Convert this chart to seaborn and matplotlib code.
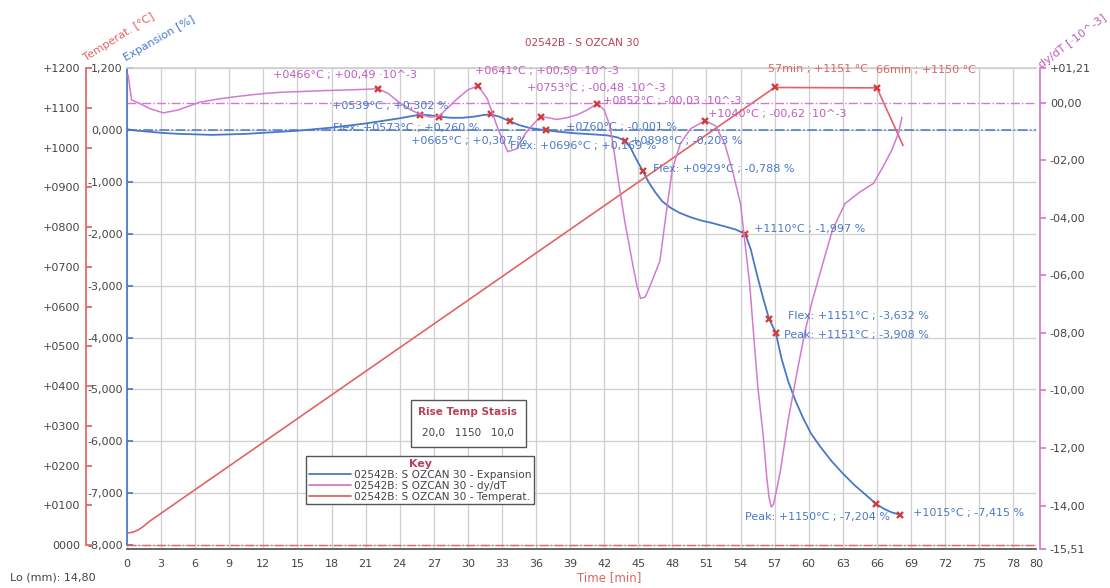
import matplotlib
matplotlib.use("Agg")
import matplotlib.pyplot as plt
import seaborn as sns
import pandas as pd
from matplotlib.lines import Line2D
from matplotlib.patches import Rectangle
from matplotlib.ticker import FixedLocator, FixedFormatter

sns.set_theme(style="white")
plt.rcParams["font.family"] = ["DejaVu Sans"]

# ---------------- run information ----------------
title_text = "02542B - S OZCAN 30"
series_name = "02542B: S OZCAN 30"
lo_mm = 14.80
program_rise = 20.0
program_temp = 1150
program_stasis = 10.0

# ---------------- expansion [%] vs time [min] ----------------
exp_time = [0, 0.5, 1.5, 3, 4.5, 6, 7.5, 9, 10.5, 12, 13.5, 15, 16.5, 18, 19.5, 21,
            22.5, 24, 25, 25.8, 26.6, 27.5, 28.5, 29.5, 30.5, 31.3, 32.0, 32.8, 33.7,
            34.5, 35.5, 36.9, 38.0, 39.5, 41.0, 42.3, 43.2, 43.8, 44.3, 44.8, 45.4,
            45.9, 46.5, 47.1, 47.8, 48.6, 49.5, 50.5, 51.5, 52.5, 53.5, 54.4, 54.9,
            55.4, 56.0, 56.5, 57.1, 57.6, 58.2, 58.8, 59.5, 60.2, 61.0, 62.0, 63.0,
            64.0, 65.0, 65.9, 66.6, 67.3, 68.0]
exp_value = [0.02, 0.0, -0.02, -0.05, -0.07, -0.08, -0.09, -0.08, -0.07, -0.05, -0.03,
             -0.01, 0.02, 0.05, 0.09, 0.13, 0.18, 0.23, 0.27, 0.302, 0.29, 0.26, 0.24,
             0.24, 0.26, 0.29, 0.307, 0.26, 0.169, 0.10, 0.04, -0.001, -0.03, -0.06,
             -0.08, -0.10, -0.14, -0.203, -0.33, -0.55, -0.788, -1.0, -1.2, -1.37,
             -1.49, -1.59, -1.67, -1.74, -1.79, -1.85, -1.91, -1.997, -2.3, -2.75,
             -3.25, -3.632, -3.908, -4.4, -4.85, -5.2, -5.55, -5.85, -6.1, -6.38,
             -6.62, -6.84, -7.03, -7.204, -7.3, -7.37, -7.415]

# ---------------- dy/dT [10^-3] vs time ----------------
dydt_time = [0.1, 0.4, 1.0, 2.0, 3.2, 4.5, 6.4, 8.0, 9.3, 11.0, 12.3, 13.7, 15.2, 17.0,
             19.6, 21.0, 22.1, 23.0, 24.0, 25.0, 25.8, 26.7, 27.5, 28.3, 29.0, 30.0,
             30.9, 31.7, 32.6, 33.5, 34.3, 35.0, 35.5, 36.4, 37.1, 37.8, 38.7, 39.6,
             40.5, 41.4, 42.0, 42.5, 42.8, 43.2, 43.8, 44.5, 44.9, 45.2, 45.6, 46.0,
             46.9, 47.5, 48.0, 48.7, 49.6, 50.9, 51.8, 52.6, 53.3, 54.0, 54.3, 54.8,
             55.5, 56.0, 56.3, 56.5, 56.7, 56.9, 57.2, 57.5, 58.2, 59.0, 59.7, 60.3,
             61.3, 62.1, 63.2, 64.5, 65.7, 66.5, 67.3, 67.9, 68.2]
dydt_value = [0.97, 0.10, 0.0, -0.2, -0.35, -0.25, 0.02, 0.13, 0.2, 0.28, 0.33, 0.37,
              0.39, 0.42, 0.45, 0.47, 0.49, 0.32, 0.0, -0.25, -0.40, -0.50, -0.45,
              -0.15, 0.12, 0.45, 0.59, 0.15, -0.85, -1.70, -1.6, -1.1, -0.85, -0.48,
              -0.52, -0.58, -0.52, -0.42, -0.25, -0.03, -0.25, -0.8, -1.5, -2.6, -4.1,
              -5.6, -6.4, -6.8, -6.75, -6.4, -5.5, -3.7, -2.3, -1.42, -0.9, -0.62,
              -0.8, -1.42, -2.37, -3.52, -4.57, -6.3, -9.8, -11.6, -13.0, -13.7,
              -14.05, -13.95, -13.4, -12.8, -11.0, -9.3, -7.9, -6.9, -5.5, -4.4, -3.5,
              -3.1, -2.8, -2.25, -1.65, -1.05, -0.5]

# ---------------- temperature [°C] vs time ----------------
temp_time = [0, 0.5, 1.0, 1.5, 2.0, 57.0, 66.0, 68.3]
temp_value = [30, 32, 38, 48, 60, 1151, 1150, 1005]

# ---------------- evaluated points ----------------
exp_evt_time = [25.8, 27.5, 32.0, 33.7, 36.9, 43.8, 45.4, 54.4, 56.5, 57.1, 65.9, 68.0]
exp_evt_temp = [539, 573, 665, 696, 760, 898, 929, 1110, 1151, 1151, 1150, 1015]
exp_evt_value = [0.302, 0.260, 0.307, 0.169, -0.001, -0.203, -0.788, -1.997,
                 -3.632, -3.908, -7.204, -7.415]
exp_evt_kind = ["", "Flex", "", "Flex", "", "", "Flex", "", "Flex", "Peak", "Peak", ""]

dydt_evt_time = [22.1, 30.9, 36.4, 41.4, 50.9]
dydt_evt_temp = [466, 641, 753, 852, 1040]
dydt_evt_value = [0.49, 0.59, -0.48, -0.03, -0.62]

temp_evt_time = [57, 66]
temp_evt_value = [1151, 1150]

# label placement (pixel offsets of the label's left edge from the point)
exp_lbl_off = [(-88, 9), (-106, -11), (-80, -27), (0, -25), (20, 3), (6, 0), (10, 2),
               (9, 5), (19, 3), (8, -2), (-131, -13), (13, 2)]
dydt_lbl_off = [(-105, 14), (-3, 15), (-14, 29), (6, 3), (3, 7)]
temp_lbl_off = [(-7, 18), (-1, 18)]

# ---------------- styling ----------------
C_EXP = "#4a78c8"
C_DY = "#d27ad2"
C_DY_TXT = "#c05ac0"
C_TEMP = "#e06464"
C_MARK = "#d23c3c"
C_TXT = "#444444"
C_TITLE = "#b8405a"
FS = 8

W, H = 1110, 588
fig = plt.figure(figsize=(W / 100, H / 100), dpi=100)
fig.patch.set_facecolor("white")

L, R, T, B = 127, 1036, 68, 549
ax = fig.add_axes([L / W, 1 - B / H, (R - L) / W, (B - T) / H])
ax_t = ax.twinx()
ax_d = ax.twinx()

df_exp = pd.DataFrame({"t": exp_time, "v": exp_value})
df_dy = pd.DataFrame({"t": dydt_time, "v": dydt_value})
df_tmp = pd.DataFrame({"t": temp_time, "v": temp_value})

# reference (zero) lines
ax.axhline(0, color=C_EXP, lw=1.1, ls="-.", zorder=1)
ax_t.axhline(0, color=C_TEMP, lw=1.0, ls="-.", zorder=1)
ax_d.axhline(0, color=C_DY, lw=1.0, ls="-.", zorder=1)

sns.lineplot(data=df_exp, x="t", y="v", ax=ax, color=C_EXP, lw=1.3, estimator=None)
sns.lineplot(data=df_tmp, x="t", y="v", ax=ax_t, color=C_TEMP, lw=1.2, estimator=None)
sns.lineplot(data=df_dy, x="t", y="v", ax=ax_d, color=C_DY, lw=1.1, estimator=None)

ax.plot(exp_evt_time, exp_evt_value, "x", color=C_MARK, ms=5, mew=1.7, zorder=5)
ax_d.plot(dydt_evt_time, dydt_evt_value, "x", color=C_MARK, ms=5, mew=1.7, zorder=5)
ax_t.plot(temp_evt_time, temp_evt_value, "x", color=C_MARK, ms=5, mew=1.7, zorder=5)


def fmt_exp(v):
    return f"{v:+.3f}".replace(".", ",")


def fmt_dy(v):
    return f"{v:+06.2f}".replace(".", ",")


for t, tc, v, k, off in zip(exp_evt_time, exp_evt_temp, exp_evt_value, exp_evt_kind, exp_lbl_off):
    txt = (f"{k}: " if k else "") + f"+{tc:04d}°C ; {fmt_exp(v)} %"
    ax_d.annotate(txt, xy=(t, v), xycoords=ax.transData, xytext=off,
                  textcoords="offset pixels", ha="left", va="center",
                  fontsize=FS, color=C_EXP, zorder=6)

for t, tc, v, off in zip(dydt_evt_time, dydt_evt_temp, dydt_evt_value, dydt_lbl_off):
    txt = f"+{tc:04d}°C ; {fmt_dy(v)} ·10^-3"
    ax_d.annotate(txt, xy=(t, v), xytext=off, textcoords="offset pixels",
                  ha="left", va="center", fontsize=FS, color=C_DY_TXT, zorder=6)

for t, v, off in zip(temp_evt_time, temp_evt_value, temp_lbl_off):
    txt = f"{t:d}min ; +{v:d} °C"
    ax_d.annotate(txt, xy=(t, v), xycoords=ax_t.transData, xytext=off,
                  textcoords="offset pixels", ha="left", va="center",
                  fontsize=FS, color=C_TEMP, zorder=6)

# ---------------- axes ----------------
x_ticks = list(range(0, 79, 3)) + [80]
exp_ticks = [1.2] + [-i for i in range(0, 9)]
temp_ticks = list(range(0, 1201, 100))
dy_ticks = [1.21] + [-2 * i for i in range(0, 8)] + [-15.51]

ax.set_xlim(0, 80)
ax.set_ylim(-8.077, 1.2)
ax_t.set_ylim(-10.06, 1200)
ax_d.set_ylim(-15.51, 1.21)

ax.xaxis.set_major_locator(FixedLocator(x_ticks))
ax.xaxis.set_major_formatter(FixedFormatter([str(v) for v in x_ticks]))
ax.yaxis.set_major_locator(FixedLocator(exp_ticks))
ax.yaxis.set_major_formatter(FixedFormatter([f"{v:.3f}".replace(".", ",") for v in exp_ticks]))


def fmt_temp_tick(v):
    return "0000" if v == 0 else f"+{v:04d}"


def fmt_dy_tick(v):
    if v > 0:
        return f"+{v:05.2f}".replace(".", ",")
    if v == 0:
        return "00,00"
    return f"{v:06.2f}".replace(".", ",")


ax_t.yaxis.set_major_locator(FixedLocator(temp_ticks))
ax_t.yaxis.set_major_formatter(FixedFormatter([fmt_temp_tick(v) for v in temp_ticks]))
ax_d.yaxis.set_major_locator(FixedLocator(dy_ticks))
ax_d.yaxis.set_major_formatter(FixedFormatter([fmt_dy_tick(v) for v in dy_ticks]))

for a in (ax, ax_t, ax_d):
    a.set_xlabel("")
    a.set_ylabel("")

ax.grid(True, color="#cfcfcf", lw=0.9)
ax.set_axisbelow(True)

# spines
for s in ax.spines.values():
    s.set_visible(False)
ax.spines["left"].set_visible(True)
ax.spines["left"].set_color(C_EXP)
ax.spines["left"].set_bounds(-8, 1.2)
ax.spines["bottom"].set_visible(True)
ax.spines["bottom"].set_color("#555555")
ax.spines["top"].set_visible(True)
ax.spines["top"].set_color("#cfcfcf")

for s in ax_t.spines.values():
    s.set_visible(False)
ax_t.yaxis.set_ticks_position("left")
ax_t.yaxis.set_label_position("left")
ax_t.spines["left"].set_visible(True)
ax_t.spines["left"].set_position(("outward", 29.5))
ax_t.spines["left"].set_color(C_TEMP)
ax_t.spines["left"].set_bounds(0, 1200)

for s in ax_d.spines.values():
    s.set_visible(False)
ax_d.spines["right"].set_visible(True)
ax_d.spines["right"].set_position(("outward", 3))
ax_d.spines["right"].set_color(C_DY)

ax.tick_params(axis="x", colors=C_TXT, labelsize=FS, length=3, direction="out",
               color="#777777", pad=4)
ax.tick_params(axis="y", labelcolor=C_TXT, labelsize=FS, length=4, direction="in",
               color=C_EXP, pad=3, left=True)
ax_t.tick_params(axis="y", labelcolor=C_TXT, labelsize=FS, length=4, direction="in",
                 color=C_TEMP, pad=4)
ax_d.tick_params(axis="y", labelcolor=C_TXT, labelsize=FS, length=4, direction="out",
                 color=C_DY, pad=3)

# ---------------- figure texts ----------------
fig.text(582 / W, 1 - 43 / H, title_text, ha="center", va="center", fontsize=7.5,
         color=C_TITLE)
fig.text(87 / W, 1 - 63 / H, "Temperat. [°C]", ha="left", va="bottom", rotation=32,
         rotation_mode="anchor", fontsize=8, color=C_TEMP)
fig.text(127 / W, 1 - 63 / H, "Expansion [%]", ha="left", va="bottom", rotation=30,
         rotation_mode="anchor", fontsize=8, color=C_EXP)
fig.text(1043 / W, 1 - 70 / H, "dy/dT [·10^-3]", ha="left", va="bottom", rotation=37,
         rotation_mode="anchor", fontsize=8, color=C_DY_TXT)
fig.text(609 / W, 1 - 578 / H, "Time [min]", ha="center", va="center", fontsize=8.5,
         color=C_TEMP)
fig.text(10 / W, 1 - 578 / H, f"Lo (mm): {lo_mm:.2f}".replace(".", ","), ha="left",
         va="center", fontsize=8, color=C_TXT)

# program box
fig.patches.append(Rectangle((411 / W, 1 - 447 / H), 115 / W, 47 / H,
                             transform=fig.transFigure, fill=True, facecolor="white",
                             edgecolor="#555555", lw=1.0, zorder=10))
fig.text(468 / W, 1 - 412 / H, "Rise Temp Stasis", ha="center", va="center",
         fontsize=7.5, fontweight="bold", color=C_TITLE, zorder=11)
fig.text(468 / W, 1 - 433 / H,
         f"{program_rise:.1f}   {program_temp:d}   {program_stasis:.1f}".replace(".", ","),
         ha="center", va="center", fontsize=7.5, color=C_TXT, zorder=11)

# key
handles = [Line2D([], [], color=C_EXP, lw=1.3), Line2D([], [], color=C_DY, lw=1.3),
           Line2D([], [], color=C_TEMP, lw=1.3)]
labels = [f"{series_name} - Expansion", f"{series_name} - dy/dT",
          f"{series_name} - Temperat."]
leg = ax_d.legend(handles, labels, title="Key", loc="upper left",
                  bbox_to_anchor=(306 / W, 1 - 456 / H), bbox_transform=fig.transFigure,
                  fontsize=7.6, frameon=True, fancybox=False, edgecolor="#555555",
                  framealpha=1, handlelength=4.0, handletextpad=0.3, labelspacing=0.1,
                  borderpad=0.25, borderaxespad=0)
leg.get_title().set_color(C_TITLE)
leg.get_title().set_fontweight("bold")
leg.get_title().set_fontsize(8)
leg.get_frame().set_linewidth(1.0)
for txt in leg.get_texts():
    txt.set_color(C_TXT)

fig.savefig("out.png", dpi=100, facecolor="white")
